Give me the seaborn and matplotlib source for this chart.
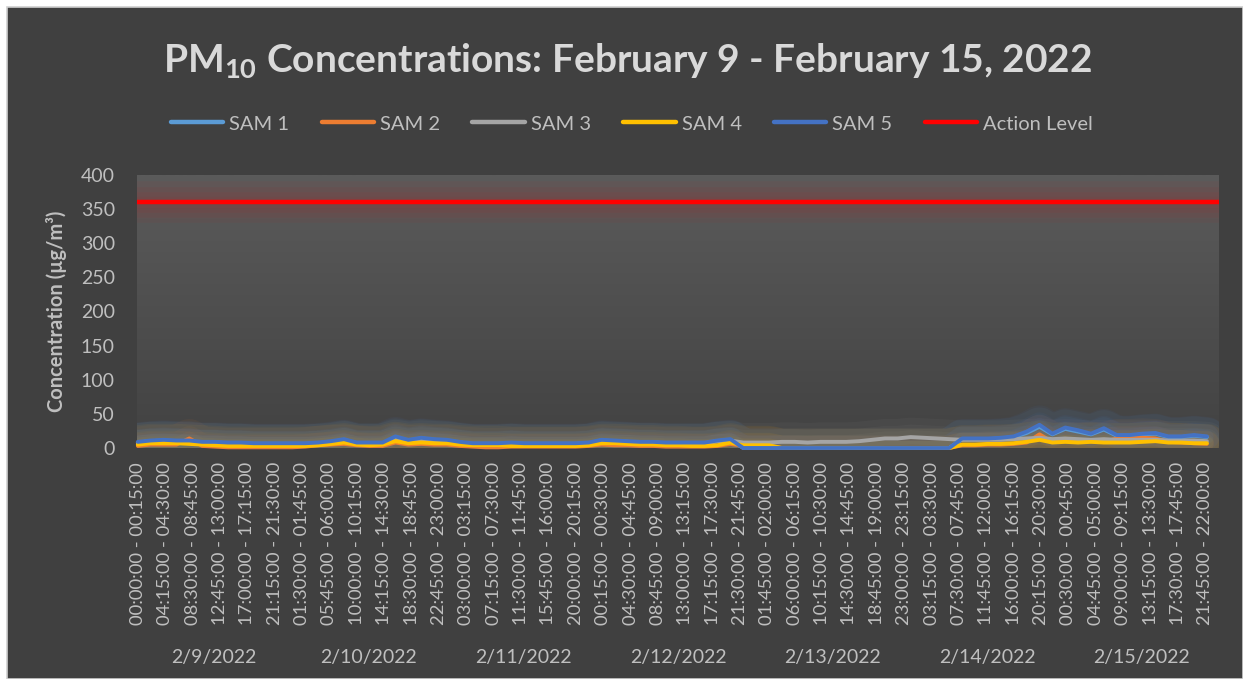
"""
PM10 concentrations, Feb 9 - Feb 15 2022 (Excel-style dark chart)
"""

import numpy as np
import pandas as pd
import matplotlib
matplotlib.use('Agg')
import matplotlib.pyplot as plt
import matplotlib.transforms as mtrans
from matplotlib.colors import LinearSegmentedColormap
from matplotlib.lines import Line2D
from matplotlib.patches import Rectangle
import seaborn as sns

# ─────────────────────────────────────────────
# DATA  (2-hour readings, 12 per day)
# ─────────────────────────────────────────────
sensors = ['SAM 1', 'SAM 2', 'SAM 3', 'SAM 4', 'SAM 5']
sensor_colors = ['#5B9BD5', '#ED7D31', '#A5A5A5', '#FFC000', '#4472C4']
action_label = 'Action Level'
action_level = 360
days = ['2/9/2022', '2/10/2022', '2/11/2022', '2/12/2022',
        '2/13/2022', '2/14/2022', '2/15/2022']

sam1 = [8, 10, 11, 10, 10, 8, 8, 7, 7, 6, 6, 6,
        6, 6, 7, 9, 12, 7, 7, 7, 15, 11, 14, 12,
        11, 8, 6, 6, 6, 7, 6, 6, 6, 6, 6, 7,
        11, 10, 9, 8, 8, 7, 7, 7, 7, 10, 12, 0,
        0, 0, 0, 0, 0, 0, 0, 0, 0, 0, 0, 0,
        0, 0, 0, 0, 13, 13, 13, 14, 16, 22, 31, 20,
        28, 24, 20, 27, 18, 18, 20, 21, 16, 16, 18, 16]

sam2 = [3, 5, 5, 5, 14, 3, 2, 1, 1, 1, 1, 1,
        1, 2, 4, 5, 6, 4, 3, 3, 8, 5, 6, 5,
        5, 3, 2, 1, 1, 2, 2, 2, 2, 2, 2, 3,
        5, 4, 4, 3, 3, 2, 2, 2, 2, 3, 6, 3,
        3, 3, 0, 0, 0, 0, 0, 0, 0, 0, 0, 0,
        0, 0, 0, 0, 4, 4, 5, 5, 6, 8, 20, 9,
        10, 9, 10, 9, 14, 14, 15, 14, 9, 8, 7, 6]

sam3 = [8, 10, 10, 10, 9, 8, 8, 7, 7, 6, 6, 6,
        6, 6, 7, 8, 11, 7, 7, 7, 13, 10, 12, 11,
        10, 8, 6, 6, 6, 7, 6, 6, 6, 6, 6, 7,
        10, 9, 9, 8, 8, 7, 7, 7, 7, 10, 11, 8,
        8, 8, 9, 9, 8, 9, 9, 9, 10, 12, 14, 14,
        16, 15, 14, 13, 12, 12, 12, 12, 13, 14, 15, 13,
        14, 13, 12, 13, 12, 12, 12, 12, 11, 11, 11, 10]

sam4 = [5, 7, 7, 7, 6, 5, 4, 3, 3, 3, 3, 3,
        3, 3, 4, 6, 8, 5, 4, 5, 10, 7, 8, 7,
        7, 5, 4, 4, 4, 3, 3, 3, 3, 3, 3, 4,
        7, 7, 6, 5, 5, 4, 4, 3, 3, 4, 8, 4,
        4, 4, 0, 0, 0, 0, 0, 0, 0, 0, 0, 0,
        0, 0, 0, 0, 5, 5, 6, 6, 7, 9, 12, 8,
        9, 8, 9, 8, 8, 8, 9, 10, 8, 8, 7, 7]

sam5 = [9, 11, 12, 11, 11, 9, 9, 8, 8, 7, 7, 7,
        7, 7, 8, 10, 13, 8, 8, 8, 17, 12, 15, 13,
        12, 9, 7, 7, 7, 8, 7, 7, 7, 7, 7, 8,
        12, 11, 10, 9, 9, 8, 8, 8, 8, 11, 13, 0,
        0, 0, 0, 0, 0, 0, 0, 0, 0, 0, 0, 0,
        0, 0, 0, 0, 14, 14, 14, 15, 17, 24, 34, 21,
        30, 26, 21, 29, 19, 19, 21, 22, 17, 17, 19, 17]

# 15-minute interval categories on the x axis
n_slots = len(days) * 96
starts = pd.date_range('2022-02-09 00:00', periods=n_slots, freq='15min')
slot_labels = [f"{s:%H:%M:%S} - {s + pd.Timedelta(minutes=15):%H:%M:%S}" for s in starts]
tick_every = 17
reading_every = 8  # 2 hours of 15-min slots

df = pd.DataFrame({'SAM 1': sam1, 'SAM 2': sam2, 'SAM 3': sam3,
                   'SAM 4': sam4, 'SAM 5': sam5})
df['slot'] = np.arange(len(df)) * reading_every
long = df.melt(id_vars='slot', var_name='sensor', value_name='conc')

# ─────────────────────────────────────────────
# STYLE
# ─────────────────────────────────────────────
sns.set_style('white')
plt.rcParams['font.family'] = ['Lato', 'DejaVu Sans']
plt.rcParams['mathtext.fontset'] = 'custom'
plt.rcParams['mathtext.rm'] = 'Lato:bold'
plt.rcParams['mathtext.it'] = 'Lato:bold'
plt.rcParams['mathtext.bf'] = 'Lato:bold'

BG = '#404040'
TXT = '#bfbfbf'
W, H = 1243, 679

fig = plt.figure(figsize=(W / 100, H / 100), dpi=100, facecolor='white')
# dark chart area with a thin light border, white margin left/top
fig.patches.append(Rectangle((7 / W, 0), 1 - 7 / W, 1 - 7 / H, transform=fig.transFigure,
                             facecolor=BG, edgecolor='#d0d0d0', lw=1.2, zorder=-10))

ax = fig.add_axes([137 / W, 1 - 448 / H, (1219 - 137) / W, (448 - 175) / H])
ax.set_facecolor('none')

xlim = (-0.5, n_slots - 0.5)
grad = LinearSegmentedColormap.from_list('bg', ['#5b5b5b', '#424242'])
ax.imshow(np.linspace(0, 1, 256).reshape(-1, 1), cmap=grad, aspect='auto',
          extent=[xlim[0], xlim[1], 0, 400], origin='upper', zorder=0)

# glow under the action level
for lw in [30, 22, 15, 8]:
    ax.axhline(action_level, color='#ff0000', lw=lw, alpha=0.04, zorder=1)

# glow around the sensor lines
for name, col in zip(sensors, sensor_colors):
    sub = long[long['sensor'] == name]
    for lw in [28, 18, 10]:
        sns.lineplot(data=sub, x='slot', y='conc', color=col, lw=lw, alpha=0.06,
                     ax=ax, legend=False, zorder=1)

n_before = len(ax.lines)
for name, col in zip(sensors, sensor_colors):
    sub = long[long['sensor'] == name]
    sns.lineplot(data=sub, x='slot', y='conc', color=col, lw=2.8, ax=ax,
                 legend=False, zorder=3)
for ln in ax.lines[n_before:]:
    ln.set_clip_on(False)
    ln.set_solid_joinstyle('round')

ax.axhline(action_level, color='#ff0000', lw=3.2, zorder=4)

ax.set_xlim(*xlim)
ax.set_ylim(0, 400)
ax.set_yticks(np.arange(0, 401, 50))
ticks = np.arange(0, n_slots, tick_every)
ax.set_xticks(ticks)
ax.set_xticklabels([slot_labels[i] for i in ticks], rotation=90)
ax.tick_params(axis='x', length=0, pad=10, labelsize=13.3, labelcolor=TXT)
ax.tick_params(axis='y', length=0, pad=16, labelsize=14, labelcolor=TXT)
ax.set_xlabel('')
ax.set_ylabel('Concentration (µg/m³)', fontsize=14.5, fontweight='bold',
              color=TXT, labelpad=10)
for sp in ax.spines.values():
    sp.set_visible(False)

# day labels under the interval labels
trans = mtrans.blended_transform_factory(ax.transData, fig.transFigure)
for d, lab in enumerate(days):
    ax.text(d * 96 + 47.5, 1 - 658 / H, lab, transform=trans, ha='center',
            va='center', fontsize=14, color=TXT)

fig.text(628 / W, 1 - 60 / H, 'PM$_{10}$ Concentrations: February 9 - February 15, 2022',
         ha='center', va='center', fontsize=28, fontweight='bold', color='#d9d9d9')

handles = [Line2D([], [], color=c, lw=3.2) for c in sensor_colors]
handles.append(Line2D([], [], color='#ff0000', lw=3.2))
fig.legend(handles, sensors + [action_label], loc='center',
           bbox_to_anchor=(632 / W, 1 - 124 / H), ncol=6, frameon=False,
           fontsize=14.5, handlelength=2.6, handletextpad=0.3, columnspacing=1.6,
           labelcolor=TXT)

plt.savefig('out.png', dpi=100, facecolor=fig.get_facecolor())
plt.close()
